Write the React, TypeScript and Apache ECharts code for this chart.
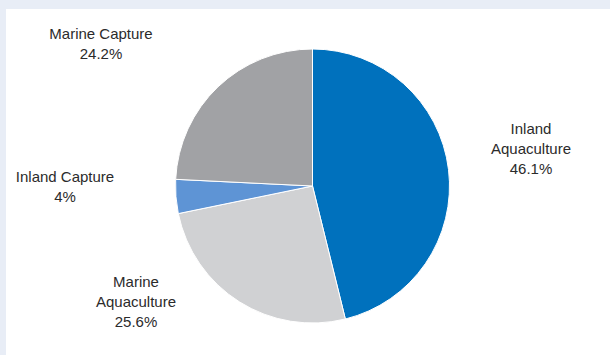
import React, { useEffect, useRef } from "react";
import * as echarts from "echarts";

const categories = ["Inland Aquaculture", "Marine Aquaculture", "Inland Capture", "Marine Capture"];
const shares = [46.1, 25.6, 4, 24.2];
const sliceColors = ["#0071bd", "#d0d1d3", "#5e94d5", "#a1a2a5"];
// label anchor centres (px)
const labelAnchors: [number, number][] = [
  [531, 148],
  [136, 301],
  [65, 186],
  [101, 43],
];

export default function App() {
  const ref = useRef<HTMLDivElement>(null);
  useEffect(() => {
    document.body.style.margin = "0";
    if (!ref.current) return;
    const chart = echarts.init(ref.current, undefined, { renderer: "svg" });
    chart.setOption({
      animation: false,
      backgroundColor: "#e8edf6",
      graphic: [
        {
          type: "rect",
          z: -10,
          shape: { x: 6, y: 9, width: 610, height: 360 },
          style: { fill: "#ffffff" },
          silent: true,
        },
      ],
      series: [
        {
          type: "pie",
          center: [312.5, 186],
          radius: 137,
          startAngle: 90,
          clockwise: true,
          avoidLabelOverlap: false,
          itemStyle: { borderColor: "#ffffff", borderWidth: 1 },
          labelLine: { show: false },
          label: {
            show: true,
            position: "outside",
            formatter: (p: any) => `${String(p.name).replace(" Aquaculture", "\nAquaculture")}\n${p.value}%`,
            fontFamily: "'Liberation Sans', Arial, sans-serif",
            fontSize: 15,
            lineHeight: 20,
            color: "#2b2b2b",
            align: "center",
          },
          labelLayout: (params: any) => {
            const a = labelAnchors[params.dataIndex];
            return { x: a[0], y: a[1], align: "center", verticalAlign: "middle" };
          },
          emphasis: { disabled: true },
          data: categories.map((c, i) => ({
            name: c,
            value: shares[i],
            itemStyle: { color: sliceColors[i] },
          })),
        },
      ],
    });
    return () => chart.dispose();
  }, []);
  return <div ref={ref} style={{ width: 610, height: 355 }} />;
}
